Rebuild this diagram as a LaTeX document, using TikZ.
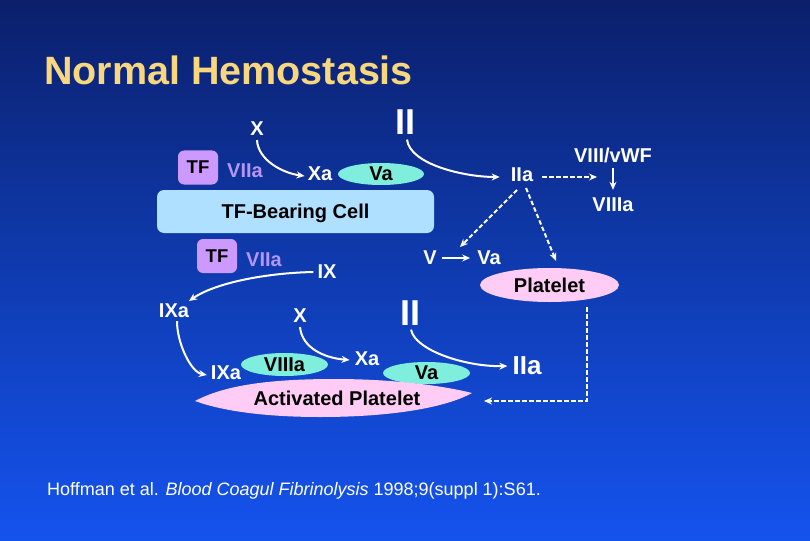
\documentclass[tikz,border=0pt]{standalone}
\usepackage{fontspec}
\setmainfont{Liberation Sans}
\usetikzlibrary{arrows.meta,shapes.geometric}
\definecolor{bgtop}{HTML}{0B1F6B}
\definecolor{bgmid}{HTML}{0F3BB0}
\definecolor{bgbot}{HTML}{1553EE}
\definecolor{titlecol}{HTML}{F8D77E}
\definecolor{tfcol}{HTML}{CC99FF}
\definecolor{viiacol}{HTML}{B595F5}
\definecolor{tealcol}{HTML}{80EEDD}
\definecolor{cellcol}{HTML}{B0E0FF}
\definecolor{pinkcol}{HTML}{FFCCF5}
\tikzset{
  x=1pt,y=-1pt,
  lbl/.style={text=white,inner sep=1pt,font=\fontsize{20}{24}\bfseries\selectfont},
  bigII/.style={text=white,inner sep=1pt,font=\fontsize{36}{40}\bfseries\selectfont},
  tfbox/.style={fill=tfcol,rounded corners=6pt,minimum width=40pt,minimum height=34pt,inner sep=0pt,text=black,font=\fontsize{18.5}{22}\bfseries\selectfont},
  viia/.style={text=viiacol,inner sep=1pt,font=\fontsize{20}{24}\bfseries\selectfont},
  oval/.style={ellipse,inner sep=0pt,text=black,font=\fontsize{20}{24}\bfseries\selectfont},
  flow/.style={draw=white,line width=2pt,-{Stealth[length=8pt,width=7pt]}},
  dflow/.style={flow,dash pattern=on 4.5pt off 2.5pt},
}
\begin{document}
\begin{tikzpicture}
\useasboundingbox (0,0) rectangle (810,540);
\shade[top color=bgtop,bottom color=bgbot,middle color=bgmid] (0,0) rectangle (810,540);
\node[text=titlecol,anchor=west,inner sep=0pt,font=\fontsize{39.5}{44}\bfseries\selectfont] (title) at (44,70) {Normal Hemostasis};

% upper part
\node[lbl] (x1) at (257,129) {X};
\node[bigII] (ii1) at (405,122) {II};
\node[tfbox] (tf1) at (198,167.5) {TF};
\node[viia] (viia1) at (245,171) {VIIa};
\node[lbl] (xa1) at (320,174) {Xa};
\node[oval,fill=tealcol,minimum width=86pt,minimum height=22pt] (va1) at (381,174) {Va};
\node[lbl] (iia1) at (522,175) {IIa};
\node[lbl] (viii) at (613,155) {VIII/vWF};
\node[lbl] (viiia1) at (613,205) {VIIIa};
\node[fill=cellcol,rounded corners=7pt,minimum width=277pt,minimum height=43pt,inner sep=0pt,text depth=0pt,text=black,font=\fontsize{20}{24}\bfseries\selectfont] (cell) at (295.5,211.5) {TF-Bearing Cell};
\node[lbl] (v) at (430,258) {V};
\node[lbl] (va2) at (489,258) {Va};
\node[oval,fill=pinkcol,minimum width=139pt,minimum height=34pt] (plt) at (549.5,285) {Platelet};

% lower part
\node[tfbox] (tf2) at (217,256) {TF};
\node[viia] (viia2) at (264,260) {VIIa};
\node[lbl] (ix) at (327,272) {IX};
\node[lbl] (ixa1) at (174,311) {IXa};
\node[lbl] (x2) at (300,316) {X};
\node[bigII] (ii2) at (410,313) {II};
\node[lbl] (xa2) at (367,359) {Xa};
\node[lbl] (ixa2) at (226,373) {IXa};
\node[oval,fill=tealcol,minimum width=87pt,minimum height=23pt] (viiia2) at (284.5,364.5) {VIIIa};
\node[oval,fill=tealcol,minimum width=87pt,minimum height=22pt] (va3) at (426.5,373) {Va};
\node[lbl,font=\fontsize{26}{30}\bfseries\selectfont] (iia2) at (527,366) {IIa};
\path[fill=pinkcol] (195,401) .. controls (225,385) and (270,379) .. (335,379)
  .. controls (390,379) and (440,385) .. (472,393)
  .. controls (445,408) and (390,417) .. (320,417)
  .. controls (270,417) and (225,412) .. (195,401) -- cycle;
\node[text=black,inner sep=0pt,font=\fontsize{20}{24}\bfseries\selectfont] (ap) at (337,398) {Activated Platelet};
\coordinate (cor) at (587,401);
\coordinate (apend) at (484,401);

\node[text=white,anchor=west,inner sep=0pt,font=\fontsize{18}{21}\selectfont] (cite) at (47,491) {Hoffman et al. \textit{Blood Coagul Fibrinolysis} 1998;9(suppl 1):S61.};

% connectors
\draw[flow] ([shift={(0,3)}]x1.south) .. controls +(1,20) and +(-22,-3) .. ([shift={(-2,2)}]xa1.west);
\draw[flow] ([shift={(2,4)}]ii1.south) .. controls +(3,25) and +(-35,0) .. ([shift={(-10,2)}]iia1.west);
\draw[dflow] ([shift={(8,2)}]iia1.east) -- ([shift={(-16,2)}]viii.south |- iia1);
\draw[flow,line width=1.5pt] ([shift={(0,4)}]viii.south) -- ([shift={(0,-7)}]viiia1.north);
\draw[dflow] ([shift={(-5,15)}]iia1.center) -- ([shift={(30,-11)}]v.center);
\draw[dflow] ([shift={(4,13)}]iia1.center) -- ([shift={(6.5,-7)}]plt.north);
\draw[flow] ([shift={(4,0)}]v.east) -- ([shift={(-6,0)}]va2.west);
\draw[flow] ([shift={(-3,0)}]ix.west) .. controls +(-48,1) and +(26,-18) .. ([shift={(15,-10)}]ixa1.center);
\draw[flow] ([shift={(3,2)}]ixa1.south) .. controls +(0,22) and +(-16,-3) .. ([shift={(-3,2)}]ixa2.west);
\draw[flow] ([shift={(0,3)}]x2.south) .. controls +(2,21) and +(-25,-2) .. ([shift={(-4,1)}]xa2.west);
\draw[flow] ([shift={(1,3)}]ii2.south) .. controls +(4,21) and +(-41,1) .. ([shift={(-4,0)}]iia2.west);
\draw[dflow] ([shift={(0,5)}]plt.south -| cor) -- (cor) -- (apend);
\end{tikzpicture}
\end{document}
